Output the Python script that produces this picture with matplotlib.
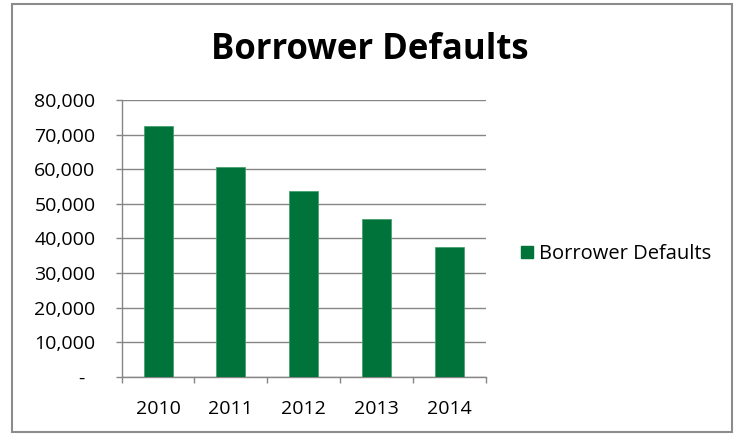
import matplotlib
matplotlib.use("Agg")
import matplotlib.pyplot as plt
from matplotlib.patches import Rectangle, Patch
from matplotlib.ticker import FuncFormatter

years = ['2010', '2011', '2012', '2013', '2014']
defaults = [72500, 60700, 53800, 45600, 37500]
series_name = 'Borrower Defaults'
title_text = 'Borrower Defaults'
yticks = [0, 10000, 20000, 30000, 40000, 50000, 60000, 70000, 80000]

W, H = 737, 434
fig = plt.figure(figsize=(W / 100, H / 100), dpi=100)
plt.rcParams['font.family'] = ['Open Sans', 'DejaVu Sans']

bar_color = '#00733A'
grid_color = '#868686'

ax = fig.add_axes([121.7 / W, (H - 376.7) / H, (485.5 - 121.7) / W, (376.7 - 100) / H])
x = list(range(len(years)))
ax.bar(x, defaults, width=0.4, color=bar_color, edgecolor='#3f9a66', linewidth=0.5, zorder=3)
ax.set_xlim(-0.5, len(years) - 0.5)
ax.set_ylim(0, 80000)
ax.set_yticks(yticks)
ax.yaxis.set_major_formatter(FuncFormatter(lambda v, p: '-  ' if v == 0 else f'{int(v):,}'))
ax.set_xticks(x)
ax.set_xticklabels(years)
ax.set_xticks([i - 0.5 for i in range(len(years) + 1)], minor=True)
ax.tick_params(axis='x', which='major', length=0, pad=17, labelsize=14, labelcolor='#000000')
ax.tick_params(axis='x', which='minor', length=4.3, width=1, color=grid_color, direction='out')
ax.tick_params(axis='y', which='major', length=4.3, width=1, color=grid_color, pad=14.5, labelsize=14, labelcolor='#000000')
ax.grid(axis='y', color=grid_color, linewidth=1, zorder=0)
for s in ['top', 'right']:
    ax.spines[s].set_visible(False)
for s in ['left', 'bottom']:
    ax.spines[s].set_color(grid_color)
    ax.spines[s].set_linewidth(1)

fig.text(370 / W, 1 - 50 / H, title_text, ha='center', va='center', fontsize=25, fontweight='bold')

handle = Patch(facecolor=bar_color, edgecolor=bar_color)
fig.legend([handle], [series_name], loc='center left', bbox_to_anchor=(521 / W, 1 - 254 / H),
           frameon=False, fontsize=14.5, handlelength=0.6, handleheight=0.6, handletextpad=0.3,
           borderaxespad=0, borderpad=0)

fig.patches.append(Rectangle((11.5 / W, 2 / H), (732 - 11.5) / W, (430 - 2) / H,
                             transform=fig.transFigure, fill=False, edgecolor='#8c8c8c', linewidth=1.5))

fig.savefig('out.png', dpi=100)
